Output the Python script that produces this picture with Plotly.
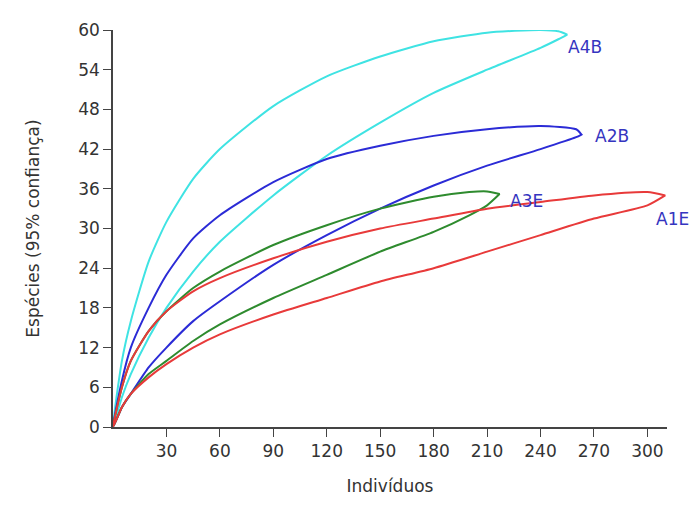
import plotly.graph_objects as go

# Rarefaction curves with 95% confidence bands (upper and lower bounds meet at the final sample size)
names = ["A4B", "A2B", "A3E", "A1E"]
colors = ["#3fe3e3", "#2b2bd6", "#2e8b2e", "#e83a3a"]

a4b_n = [0, 5, 10, 20, 30, 45, 60, 90, 120, 150, 180, 210, 240, 250, 255]
a4b_up = [0, 10, 16, 25, 31, 37.5, 42, 48.5, 53, 56, 58.3, 59.6, 60, 59.8, 59.3]
a4b_lo = [0, 4.5, 8, 13.5, 18, 23.5, 28, 35, 41, 46, 50.5, 54, 57.3, 58.6, 59.3]

a2b_n = [0, 5, 10, 20, 30, 45, 60, 90, 120, 150, 180, 210, 240, 260, 263]
a2b_up = [0, 7, 12, 18, 23, 28.5, 32, 37, 40.5, 42.5, 44, 45, 45.5, 45, 44.2]
a2b_lo = [0, 3, 5, 9, 12, 16, 19, 24.5, 29, 33, 36.5, 39.5, 42, 43.8, 44.2]

a3e_n = [0, 5, 10, 20, 30, 45, 60, 90, 120, 150, 180, 200, 210, 217]
a3e_up = [0, 6, 10, 14.5, 17.5, 21, 23.5, 27.5, 30.5, 33, 34.8, 35.5, 35.6, 35.2]
a3e_lo = [0, 3, 5, 8, 10, 13, 15.5, 19.5, 23, 26.5, 29.5, 32, 33.5, 35.2]

a1e_n = [0, 5, 10, 20, 30, 45, 60, 90, 120, 150, 180, 210, 240, 270, 300, 310]
a1e_up = [0, 6, 10, 14.5, 17.5, 20.5, 22.5, 25.5, 28, 30, 31.5, 33, 34, 35, 35.5, 35]
a1e_lo = [0, 3, 5, 7.5, 9.5, 12, 14, 17, 19.5, 22, 24, 26.5, 29, 31.5, 33.5, 35]

# label anchor points: x in paper fraction of the plot width, y in data units
label_x = [0.820, 0.868, 0.7154, 1.0415]
label_y = [57.5, 44, 34.2, 31.4]
label_anchor = ["left", "left", "left", "right"]

series = [
    (a4b_n, a4b_up, a4b_lo),
    (a2b_n, a2b_up, a2b_lo),
    (a3e_n, a3e_up, a3e_lo),
    (a1e_n, a1e_up, a1e_lo),
]

FONT = "DejaVu Sans, Verdana, sans-serif"

fig = go.Figure()
for name, color, (n, up, lo) in zip(names, colors, series):
    xs = list(n) + list(reversed(n))
    ys = list(up) + list(reversed(lo))
    fig.add_trace(go.Scatter(x=xs, y=ys, mode="lines", name=name,
                             line=dict(color=color, width=2, shape="spline", smoothing=0.6),
                             hoverinfo="skip", showlegend=False))

for name, lx, ly, anc in zip(names, label_x, label_y, label_anchor):
    fig.add_annotation(x=lx, xref="paper", y=ly, yref="y", text=name, showarrow=False,
                       xanchor=anc, yanchor="middle", borderpad=0,
                       font=dict(family=FONT, size=17, color="#3535c0"))

axis_common = dict(showline=True, linecolor="#444444", linewidth=1.5, ticks="outside",
                   tickcolor="#444444", ticklen=8, showgrid=False, zeroline=False,
                   tickfont=dict(family=FONT, size=17, color="#333333"))

fig.update_layout(
    width=692, height=497,
    paper_bgcolor="white", plot_bgcolor="white",
    margin=dict(l=105, r=33, t=15, b=77),
    xaxis=dict(range=[0, 311], tickvals=[30, 60, 90, 120, 150, 180, 210, 240, 270, 300],
               title=dict(text="Indivíduos", standoff=20,
                          font=dict(family=FONT, size=17, color="#333333")),
               **axis_common),
    yaxis=dict(range=[0, 60], tickvals=[0, 6, 12, 18, 24, 30, 36, 42, 48, 54, 60],
               title=dict(text="Espécies (95% confiança)", standoff=34,
                          font=dict(family=FONT, size=17, color="#333333")),
               **axis_common),
)

fig.write_html("out.html")
